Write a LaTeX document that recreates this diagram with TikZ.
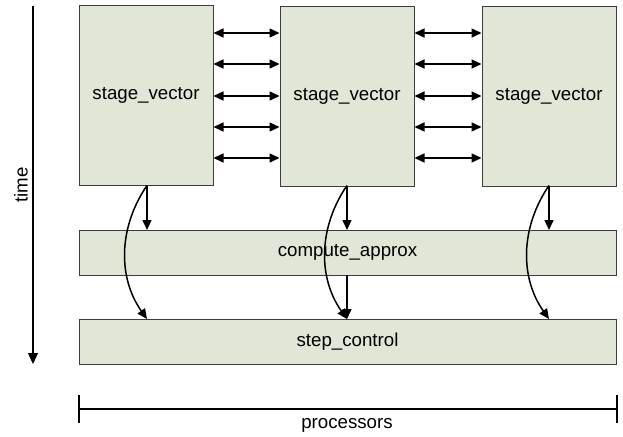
\documentclass[tikz,border=0pt]{standalone}
\usepackage{fontspec}
\setmainfont{Liberation Sans}
\usetikzlibrary{arrows.meta}
\definecolor{boxfill}{RGB}{224,231,215}
\definecolor{boxline}{RGB}{60,60,60}
\begin{document}
\begin{tikzpicture}[x=1pt,y=-1pt,
  font=\fontsize{18.7}{22}\selectfont,
  block/.style={draw=boxline,line width=1pt,fill=boxfill,inner sep=0pt},
  stagebox/.style={block,minimum width=134pt,minimum height=179pt},
  barbox/.style={block,minimum width=537pt,minimum height=45pt},
  link/.style={line width=1.5pt,-{Triangle[length=10pt,width=9pt]}},
  dlink/.style={line width=1.5pt,{Triangle[length=10pt,width=9pt]}-{Triangle[length=10pt,width=9pt]}},
  axis/.style={line width=1.5pt}]
\useasboundingbox (0,0) rectangle (623,436);

% processor stage vectors
\node[stagebox] (s1) at (146,95.5) {stage\_vector};
\node[stagebox] (s2) at (347,96.5) {stage\_vector};
\node[stagebox] (s3) at (549,96.5) {stage\_vector};

% shared phases
\node[barbox] (ca) at (347.5,252.5) {compute\_approx};
\node[barbox] (sc) at (347.5,341.5) {step\_control};

% data exchange between neighbouring processors
\foreach \yy in {33,64,96,127,158}{
  \draw[dlink] (s1.east |- 0,\yy) -- (s2.west |- 0,\yy);
  \draw[dlink] (s2.east |- 0,\yy) -- (s3.west |- 0,\yy);
}

% each stage vector feeds compute_approx and step_control
\foreach \s/\xx in {s1/147,s2/347,s3/549}{
  \coordinate (\s top) at (\xx,185.5);
  \coordinate (\s ca) at (\xx,230);
  \coordinate (\s sc) at (\xx,319);
  \draw[link] (\s top) -- (\s ca);
  \draw[link] (\s top) .. controls ([xshift=-29pt]\xx,228) and ([xshift=-29pt]\xx,278) .. (\s sc);
}
\coordinate (cab) at (347,275);
\draw[link] (cab) -- (s2sc);

% time axis
\coordinate (t0) at (33,6);
\coordinate (t1) at (33,364);
\draw[axis,-{Triangle[length=11pt,width=10pt]}] (t0) -- (t1);
\node[rotate=90] (tl) at (21,185) {time};

% processor axis
\coordinate (p0) at (79,409);
\coordinate (p1) at (617,409);
\draw[axis] (p0) -- (p1);
\draw[axis] ([yshift=-14pt]p0) -- ([yshift=14pt]p0);
\draw[axis] ([yshift=-14pt]p1) -- ([yshift=14pt]p1);
\node (pl) at (347,425) {processors};
\end{tikzpicture}
\end{document}
